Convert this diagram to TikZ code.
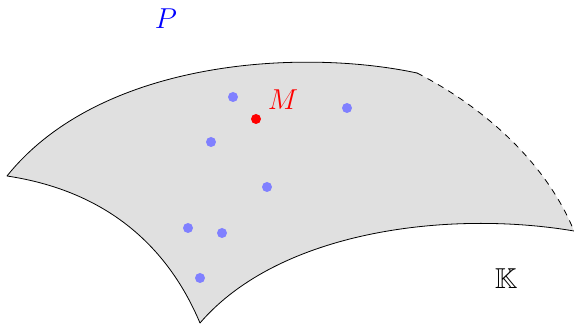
\documentclass[tikz,border=0pt]{standalone}
\usepackage{amsfonts,amsmath,amssymb}
\usepackage{tikz}
\usetikzlibrary{arrows.meta}
\tikzset{
  every picture/.style={font=\Large, line join=round, line cap=round, >=Stealth},
  pt/.style={circle, fill=blue!50, inner sep=0pt, minimum size=5pt},
  ptm/.style={circle, fill=red, inner sep=0pt, minimum size=5pt},
}
\definecolor{surf}{RGB}{224,224,224}

\begin{document}
\begin{tikzpicture}[x=0.5pt,y=-0.5pt]
\useasboundingbox (0,0) rectangle (574,325);
\fill[surf](7,176) .. controls (100,60) and (300,48) .. (417,73)
  .. controls (480,105) and (545,160) .. (574,231)
  .. controls (450,210) and (280,230) .. (200,323)
  .. controls (165,240) and (100,190) .. (7,176);
\draw(574,231) .. controls (450,210) and (280,230) .. (200,323)
  .. controls (165,240) and (100,190) .. (7,176)
  .. controls (100,60) and (300,48) .. (417,73);
\draw[dashed](417,73) .. controls (480,105) and (545,160) .. (574,231);
\node[pt] (p1) at (233,97) {};
\node[pt] (p2) at (347,108) {};
\node[pt] (p3) at (211,142) {};
\node[pt] (p4) at (267,187) {};
\node[pt] (p5) at (188,228) {};
\node[pt] (p6) at (222,233) {};
\node[pt] (p7) at (200,278) {};
\node[ptm] (m) at (256,119) {};
\node[red] (mlab) at (283,100) {$M$};
\node[blue] (plab) at (166,19) {$P$};
\node (klab) at (506,279) {$\mathbb{K}$};
\end{tikzpicture}
\end{document}
